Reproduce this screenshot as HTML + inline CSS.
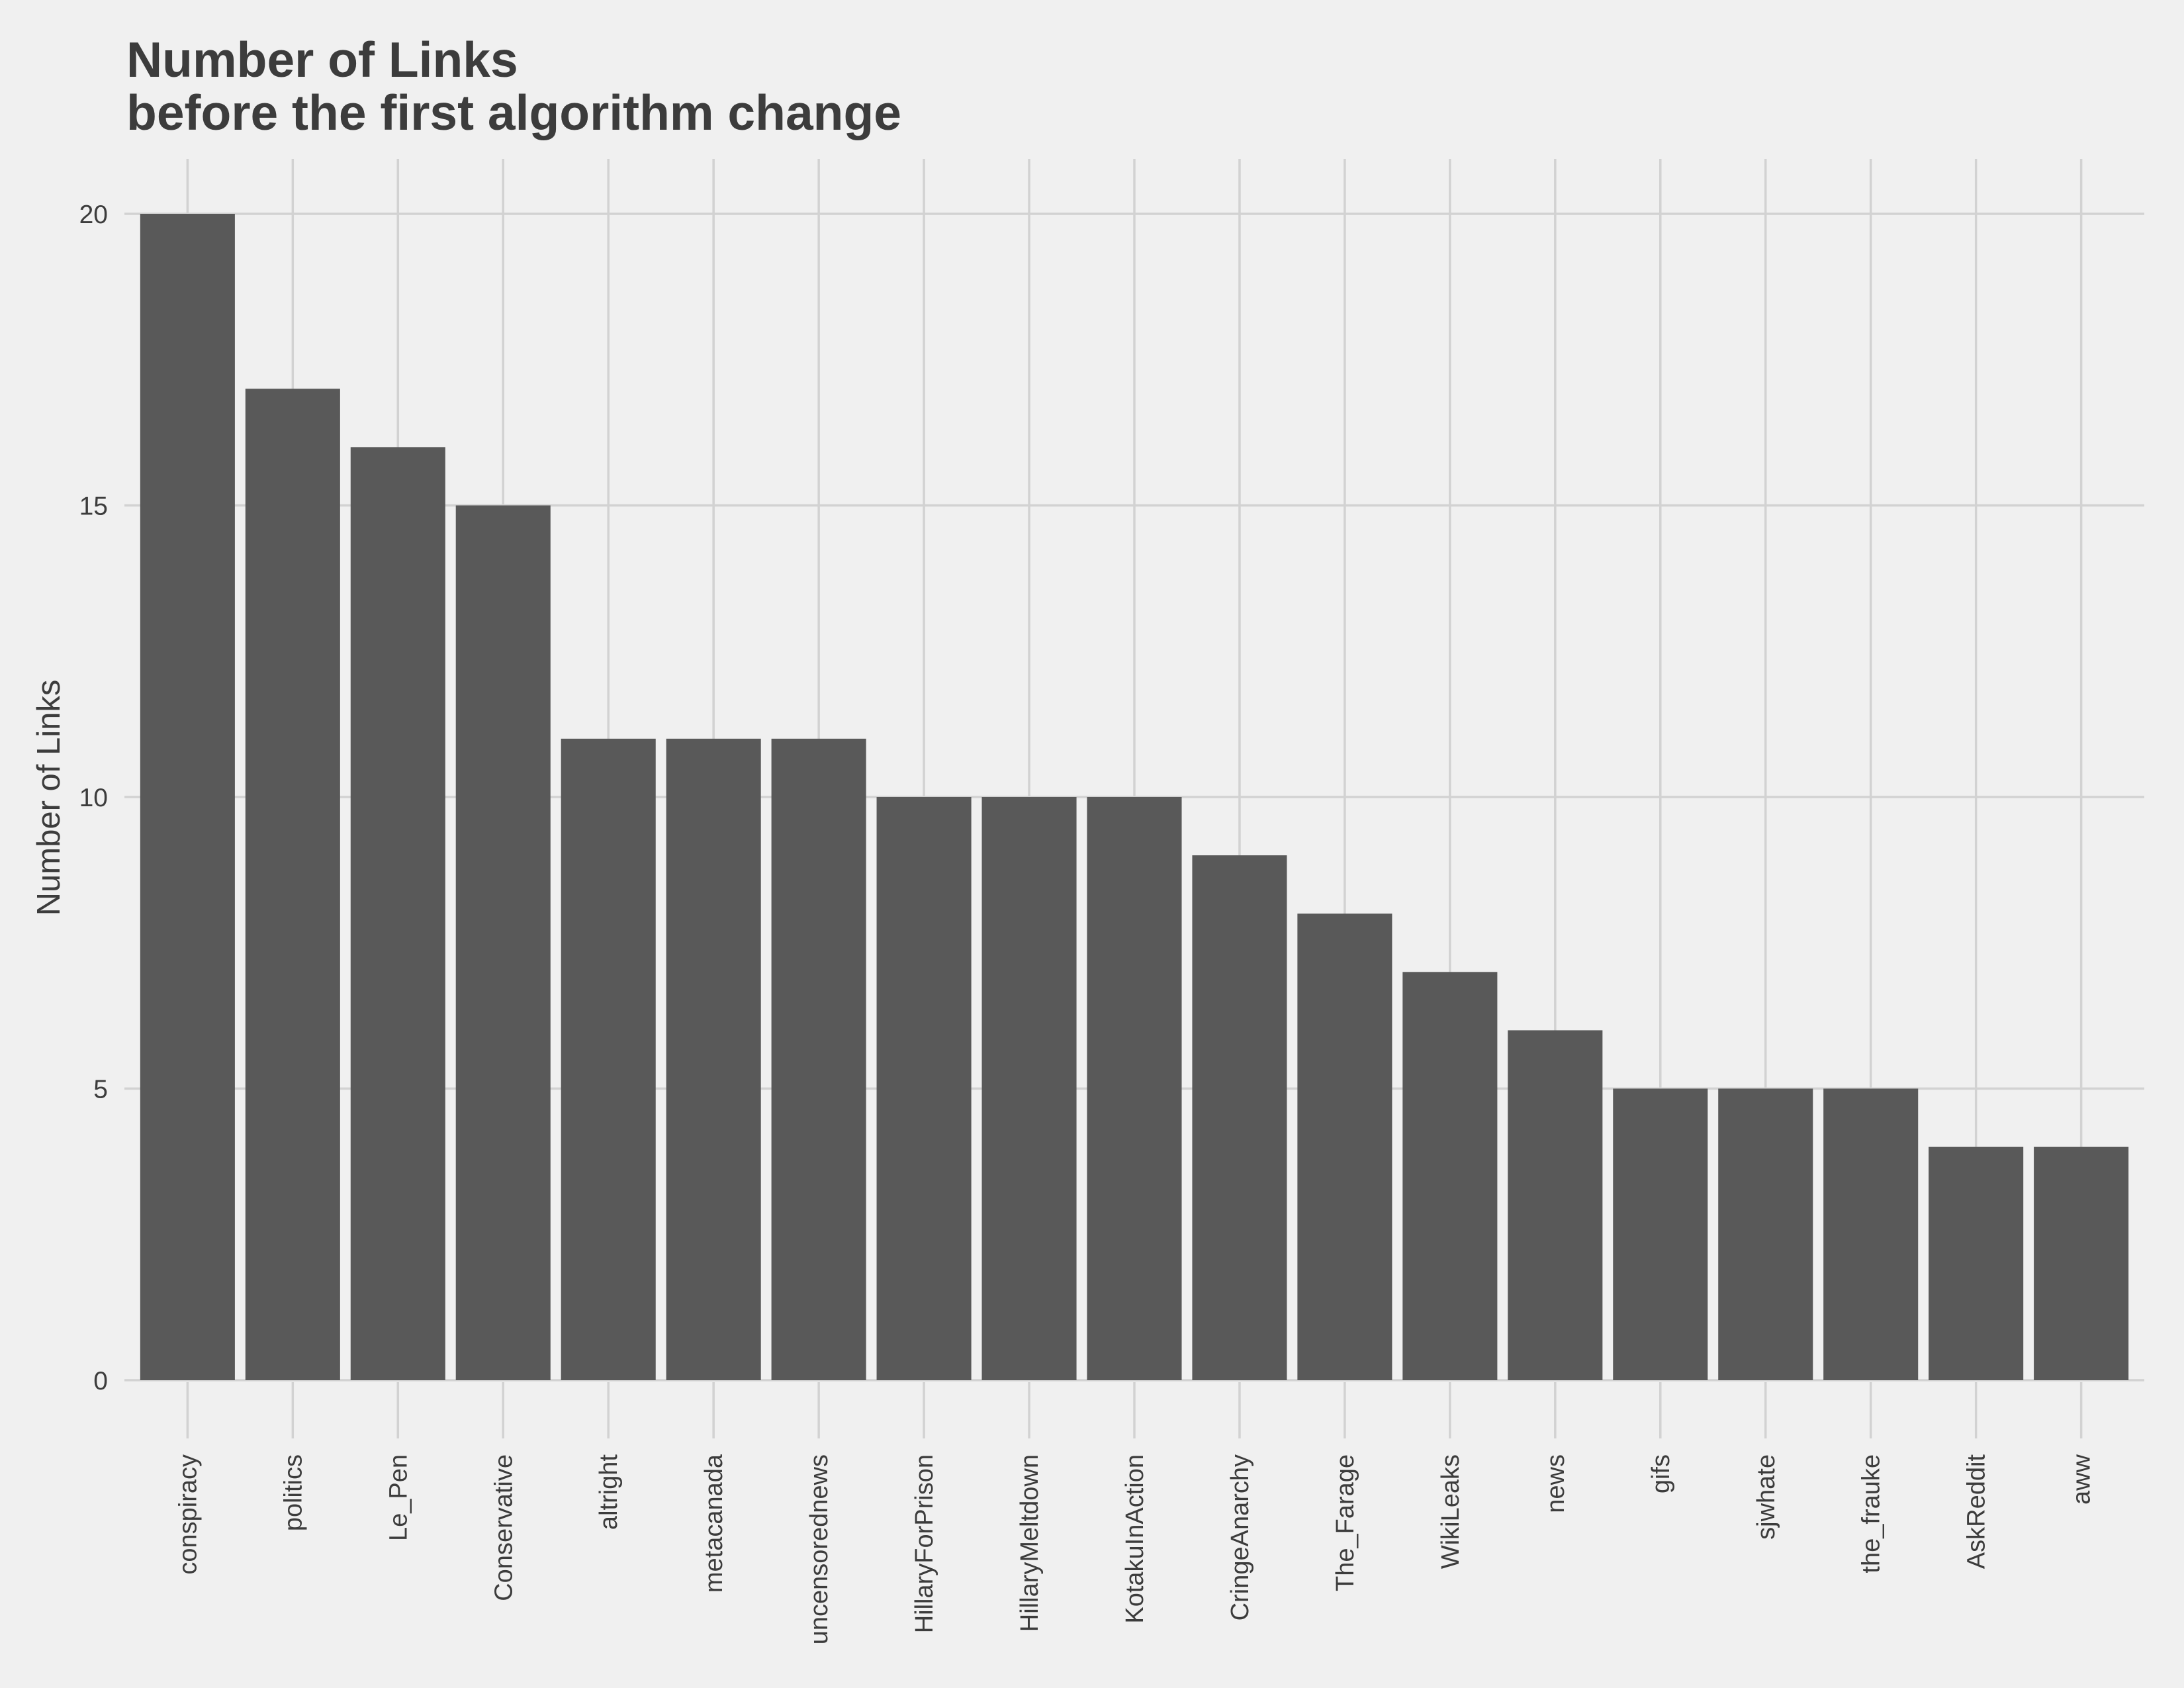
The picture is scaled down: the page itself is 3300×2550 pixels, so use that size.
<!DOCTYPE html>
<html><head><meta charset="utf-8"><style>
html,body{margin:0;padding:0;background:#f0f0f0;}
svg{display:block;font-family:"Liberation Sans",Arial,sans-serif;}
</style></head><body>
<svg id="chart" width="3300" height="2550" viewBox="0 0 3300 2550">
<rect width="3300" height="2550" fill="#f0f0f0"/>
<text x="191" y="116" font-size="75" font-weight="bold" fill="#3c3c3c">Number of Links</text>
<text x="191" y="196" font-size="75" font-weight="bold" fill="#3c3c3c">before the first algorithm change</text>
<text transform="translate(90,1205) rotate(-90)" text-anchor="middle" font-size="49" fill="#3c3c3c">Number of Links</text>
<g id="grid"></g><g id="bars"></g><g id="axes"></g>
</svg>
<script>
const categories = ["conspiracy","politics","Le_Pen","Conservative","altright","metacanada","uncensorednews","HillaryForPrison","HillaryMeltdown","KotakuInAction","CringeAnarchy","The_Farage","WikiLeaks","news","gifs","sjwhate","the_frauke","AskReddit","aww"];
const values = [20,17,16,15,11,11,11,10,10,10,9,8,7,6,5,5,5,4,4];
const yTicks = [0,5,10,15,20];

const NS = "http://www.w3.org/2000/svg";
const panelL = 188, panelR = 3240, y0 = 2085, y20 = 323;
const step = (panelR - panelL) / (categories.length - 1 + 1.2);
function xPos(i){ return panelL + step * (0.6 + i); }
function yPos(v){ return y0 - (y0 - y20) * v / 20; }
const grid = document.getElementById('grid'), bars = document.getElementById('bars'), axes = document.getElementById('axes');
function mk(tag, attrs, parent){ const e = document.createElementNS(NS, tag); for (const k in attrs) e.setAttribute(k, attrs[k]); parent.appendChild(e); return e; }

yTicks.forEach(t => {
  const l = mk('line', {x1: panelL, x2: panelR, y1: yPos(t), y2: yPos(t), stroke: '#d2d2d2', 'stroke-width': 3.5}, grid);
  
  
  const tx = mk('text', {x: 163, y: yPos(t) + 14, 'text-anchor': 'end', 'font-size': 39, fill: '#3c3c3c'}, axes);
  tx.textContent = t;
  
  
});
categories.forEach((c, i) => {
  const x = xPos(i);
  const g = mk('line', {x1: x, x2: x, y1: 240, y2: y0, stroke: '#d2d2d2', 'stroke-width': 3.5}, grid);
  
  
  const tk = mk('line', {x1: x, x2: x, y1: y0 + 3, y2: 2173, stroke: '#d2d2d2', 'stroke-width': 3.5}, axes);
  
  
  const w = step * 0.9;
  const b = mk('rect', {x: x - w / 2, y: yPos(values[i]), width: w, height: y0 - yPos(values[i]), fill: '#595959'}, bars);
  
  
  const lb = mk('text', {transform: 'translate(' + (x + 13) + ',2197) rotate(-90)', 'text-anchor': 'end', 'font-size': 38, fill: '#3c3c3c'}, axes);
  lb.textContent = c;
  
  
});
</script>
</body></html>
